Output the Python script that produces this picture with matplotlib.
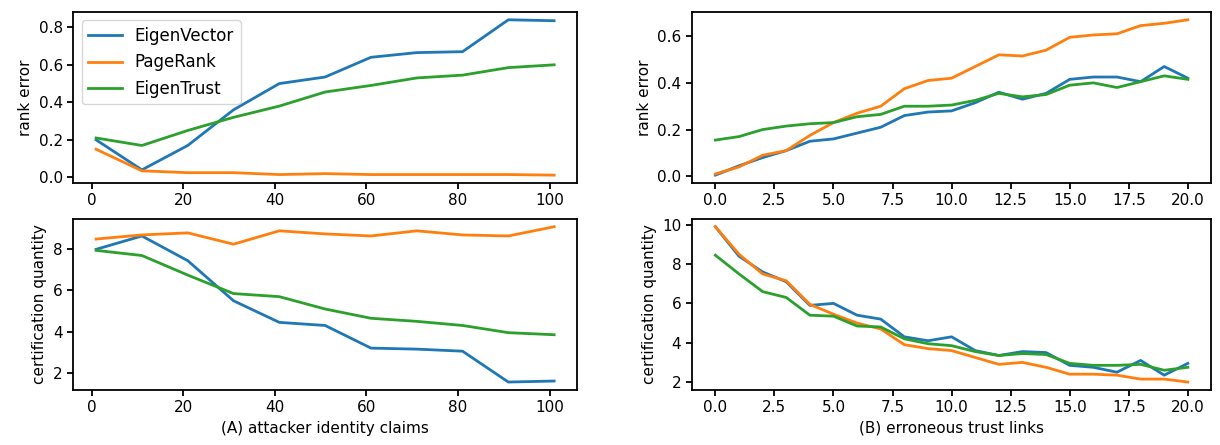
import matplotlib
matplotlib.use("Agg")
import matplotlib.pyplot as plt

# (A) attacker identity claims
claims = [1, 11, 21, 31, 41, 51, 61, 71, 81, 91, 101]
a_rank_eigvec = [0.20, 0.04, 0.17, 0.36, 0.50, 0.535, 0.64, 0.665, 0.67, 0.84, 0.835]
a_rank_pagerank = [0.15, 0.035, 0.025, 0.025, 0.015, 0.02, 0.015, 0.015, 0.015, 0.015, 0.012]
a_rank_eigtrust = [0.21, 0.17, 0.25, 0.32, 0.38, 0.455, 0.49, 0.53, 0.545, 0.585, 0.60]
a_cert_eigvec = [8.0, 8.65, 7.45, 5.5, 4.45, 4.3, 3.2, 3.15, 3.05, 1.55, 1.6]
a_cert_pagerank = [8.5, 8.7, 8.8, 8.25, 8.9, 8.75, 8.65, 8.9, 8.7, 8.65, 9.1]
a_cert_eigtrust = [7.95, 7.7, 6.75, 5.85, 5.7, 5.1, 4.65, 4.5, 4.3, 3.95, 3.85]

# (B) erroneous trust links
links = list(range(21))
b_rank_eigvec = [0.005, 0.045, 0.08, 0.11, 0.15, 0.16, 0.185, 0.21, 0.26, 0.275, 0.28,
                 0.315, 0.36, 0.33, 0.355, 0.415, 0.425, 0.425, 0.405, 0.47, 0.42]
b_rank_pagerank = [0.01, 0.04, 0.09, 0.11, 0.175, 0.23, 0.27, 0.30, 0.375, 0.41, 0.42,
                   0.47, 0.52, 0.515, 0.54, 0.595, 0.605, 0.61, 0.645, 0.655, 0.67]
b_rank_eigtrust = [0.155, 0.17, 0.20, 0.215, 0.225, 0.23, 0.255, 0.265, 0.30, 0.30, 0.305,
                   0.325, 0.355, 0.34, 0.35, 0.39, 0.40, 0.38, 0.405, 0.43, 0.415]
b_cert_eigvec = [9.9, 8.4, 7.6, 7.1, 5.9, 6.0, 5.4, 5.2, 4.3, 4.1, 4.3,
                 3.6, 3.35, 3.55, 3.5, 2.85, 2.75, 2.5, 3.1, 2.35, 2.95]
b_cert_pagerank = [9.9, 8.5, 7.5, 7.15, 5.95, 5.45, 5.0, 4.7, 3.9, 3.7, 3.6,
                   3.25, 2.9, 3.0, 2.75, 2.4, 2.4, 2.35, 2.15, 2.15, 2.0]
b_cert_eigtrust = [8.45, 7.5, 6.6, 6.3, 5.4, 5.35, 4.85, 4.8, 4.2, 3.95, 3.85,
                   3.55, 3.35, 3.45, 3.4, 2.95, 2.85, 2.85, 2.9, 2.6, 2.75]

labels = ["EigenVector", "PageRank", "EigenTrust"]

plt.rcParams["axes.linewidth"] = 1.3
plt.rcParams["xtick.major.width"] = 1.3
plt.rcParams["ytick.major.width"] = 1.3
plt.rcParams["xtick.major.size"] = 4
plt.rcParams["ytick.major.size"] = 4
plt.rcParams["lines.linewidth"] = 2.0

fig = plt.figure(figsize=(12.2, 4.45), dpi=100)
ax_tl = fig.add_axes([0.060, 0.589, 0.413, 0.384])
ax_bl = fig.add_axes([0.060, 0.124, 0.413, 0.384])
ax_tr = fig.add_axes([0.567, 0.589, 0.426, 0.384])
ax_br = fig.add_axes([0.567, 0.124, 0.426, 0.384])

for ys, lab in zip([a_rank_eigvec, a_rank_pagerank, a_rank_eigtrust], labels):
    ax_tl.plot(claims, ys, label=lab)
for ys in [a_cert_eigvec, a_cert_pagerank, a_cert_eigtrust]:
    ax_bl.plot(claims, ys)
for ys in [b_rank_eigvec, b_rank_pagerank, b_rank_eigtrust]:
    ax_tr.plot(links, ys)
for ys in [b_cert_eigvec, b_cert_pagerank, b_cert_eigtrust]:
    ax_br.plot(links, ys)

ax_tl.legend(loc="upper left", fontsize=12)
ax_tl.set_ylabel("rank error", fontsize=11)
ax_tr.set_ylabel("rank error", fontsize=11)
ax_bl.set_ylabel("certification quantity", fontsize=11)
ax_br.set_ylabel("certification quantity", fontsize=11)
ax_bl.set_xlabel("(A) attacker identity claims", fontsize=11)
ax_br.set_xlabel("(B) erroneous trust links", fontsize=11)

for ax in (ax_tl, ax_bl, ax_tr, ax_br):
    ax.tick_params(labelsize=11)

fig.savefig("out.png", dpi=100)
